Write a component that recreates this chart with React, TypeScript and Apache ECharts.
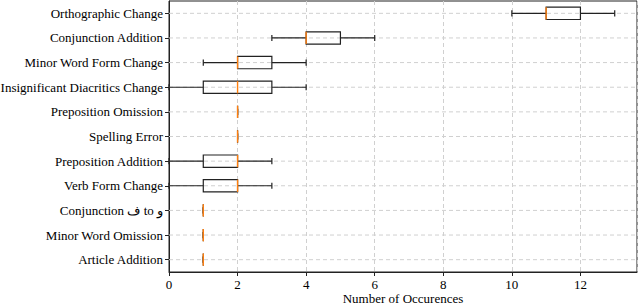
import React, { useEffect, useRef } from "react";
import * as echarts from "echarts";

// bottom to top
const categories = [
  "Article Addition",
  "Minor Word Omission",
  "Conjunction ف to و",
  "Verb Form Change",
  "Preposition Addition",
  "Spelling Error",
  "Preposition Omission",
  "Insignificant Diacritics Change",
  "Minor Word Form Change",
  "Conjunction Addition",
  "Orthographic Change",
];
const mins = [1, 1, 1, 0, 0, 2, 2, 0, 1, 3, 10];
const q1s = [1, 1, 1, 1, 1, 2, 2, 1, 2, 4, 11];
const medians = [1, 1, 1, 2, 2, 2, 2, 2, 2, 4, 11];
const q3s = [1, 1, 1, 2, 2, 2, 2, 3, 3, 5, 12];
const maxs = [1, 1, 1, 3, 3, 2, 2, 4, 4, 6, 13];
const xTicks = [0, 2, 4, 6, 8, 10, 12];

const FONT = "Liberation Serif";

export default function App() {
  const ref = useRef<HTMLDivElement>(null);
  useEffect(() => {
    const chart = echarts.init(ref.current!, null, { renderer: "svg" });
    const data = categories.map((_, i) => [i, mins[i], q1s[i], medians[i], q3s[i], maxs[i]]);
    chart.setOption({
      animation: false,
      textStyle: { fontFamily: FONT },
      grid: {
        left: 169,
        right: 3,
        top: 1,
        bottom: 32,
        outerBoundsMode: "none",
        containLabel: false,
        show: true,
        borderColor: "#222",
        borderWidth: 1,
        backgroundColor: "transparent",
      },
      xAxis: {
        type: "value",
        min: 0,
        max: 13.65,
        interval: 2,
        name: "Number of Occurences",
        nameLocation: "middle",
        nameGap: 20,
        nameMoveOverlap: false,
        nameTextStyle: { fontFamily: FONT, fontSize: 13, lineHeight: 12, color: "#000", verticalAlign: "top" },
        axisLine: { show: true, lineStyle: { color: "#222" } },
        axisTick: { show: true, length: 4, lineStyle: { color: "#222" } },
        axisLabel: {
          fontFamily: FONT,
          fontSize: 13,
          lineHeight: 12,
          color: "#000",
          margin: 6,
          showMaxLabel: false,
          formatter: (v: number) => (xTicks.includes(v) ? String(v) : ""),
        },
        splitLine: { show: true, lineStyle: { color: "#d0d0d0", type: [4, 3], width: 1 } },
      },
      yAxis: {
        type: "category",
        data: categories,
        axisLine: { show: true, lineStyle: { color: "#222" } },
        axisTick: { show: true, alignWithLabel: true, length: 4, lineStyle: { color: "#222" } },
        axisLabel: { fontFamily: FONT, fontSize: 13, color: "#000", margin: 6 },
        splitLine: { show: false },
      },
      series: [
        {
          type: "custom",
          encode: { x: [1, 2, 3, 4, 5], y: 0 },
          data,
          z: 5,
          renderItem: (params: any, api: any) => {
            const yi = api.value(0);
            const vMin = api.value(1), vQ1 = api.value(2), vMed = api.value(3), vQ3 = api.value(4), vMax = api.value(5);
            const band = api.size([0, 1])[1];
            const bh = band * 0.5;
            const ch = band * 0.25;
            const cy = api.coord([0, yi])[1];
            const x = (v: number) => api.coord([v, yi])[0];
            const black = { stroke: "#222", lineWidth: 1.2, fill: null };
            const children: any[] = [];
            const left = api.coord([0, yi])[0];
            const right = api.coord([13.65, yi])[0];
            children.push({
              type: "line",
              shape: { x1: left, y1: cy, x2: right, y2: cy },
              style: { stroke: "#d0d0d0", lineWidth: 1, lineDash: [4, 3] },
              z2: 0,
            });
            children.push({ type: "line", shape: { x1: x(vMin), y1: cy, x2: x(vQ1), y2: cy }, style: black, z2: 1 });
            children.push({ type: "line", shape: { x1: x(vQ3), y1: cy, x2: x(vMax), y2: cy }, style: black, z2: 1 });
            children.push({ type: "line", shape: { x1: x(vMin), y1: cy - ch / 2, x2: x(vMin), y2: cy + ch / 2 }, style: black, z2: 1 });
            children.push({ type: "line", shape: { x1: x(vMax), y1: cy - ch / 2, x2: x(vMax), y2: cy + ch / 2 }, style: black, z2: 1 });
            children.push({
              type: "rect",
              shape: { x: x(vQ1), y: cy - bh / 2, width: x(vQ3) - x(vQ1), height: bh },
              style: { stroke: "#222", lineWidth: 1.2, fill: "rgba(255,255,255,0)" },
              z2: 2,
            });
            children.push({
              type: "line",
              shape: { x1: x(vMed), y1: cy - bh / 2, x2: x(vMed), y2: cy + bh / 2 },
              style: { stroke: "#ff7f0e", lineWidth: 1.4 },
              z2: 3,
            });
            return { type: "group", children };
          },
        },
      ],
    });
    return () => chart.dispose();
  }, []);
  return <div ref={ref} style={{ width: 640, height: 304, position: "absolute", left: 0, top: 0 }} />;
}
